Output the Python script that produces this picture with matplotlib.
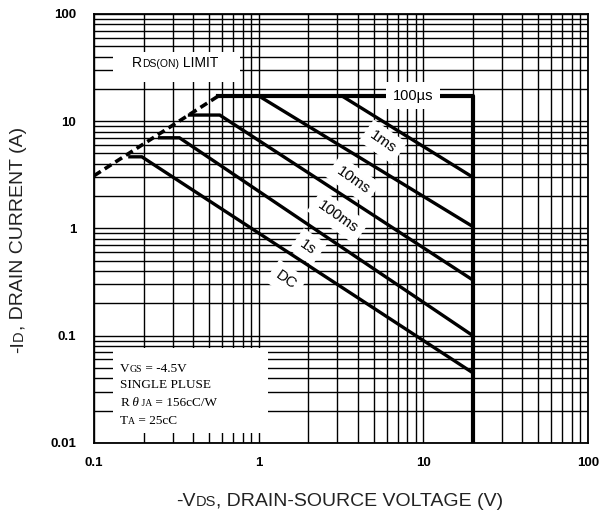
import numpy as np
import matplotlib.pyplot as plt
from matplotlib.patches import Rectangle
from matplotlib.ticker import FixedLocator, NullFormatter
from matplotlib.transforms import offset_copy

plt.rcParams['font.family'] = 'Liberation Sans'

# Safe operating area limits (V in volts, I in amps)
v_rds = [0.1, 0.57]
i_rds = [3.1, 17.2]

v_100us = [0.57, 20, 20]
i_100us = [17.2, 17.2, 0.01]
v_1ms = [0.57, 3.2, 20]
i_1ms = [17.2, 17.2, 3.0]
v_10ms = [0.57, 1.0, 20]
i_10ms = [17.2, 17.2, 1.04]
v_100ms = [0.38, 0.58, 20]
i_100ms = [11.4, 11.4, 0.33]
v_1s = [0.25, 0.33, 20]
i_1s = [7.0, 7.0, 0.1]
v_dc = [0.165, 0.195, 20]
i_dc = [4.65, 4.65, 0.045]

# pulse width labels and where they sit on the chart
pulse_labels = ['1ms', '10ms', '100ms', '1s', 'DC']
label_v = [5.69, 3.74, 3.03, 1.99, 1.465]
label_i = [6.4, 2.83, 1.28, 0.672, 0.331]

tick_vals = [0.1, 1, 10, 100]
x_tick_labels = ['0.1', '1', '10', '100']
y_tick_vals = [0.01, 0.1, 1, 10, 100]
y_tick_labels = ['0.01', '0.1', '1', '10', '100']

fig = plt.figure(figsize=(6.03, 5.15), dpi=100)
ax = fig.add_axes([0.156, 0.140, 0.819, 0.833])
ax.set_xscale('log')
ax.set_yscale('log')
ax.set_xlim(0.1, 100)
ax.set_ylim(0.01, 100)

ax.xaxis.set_major_locator(FixedLocator(tick_vals))
ax.set_xticklabels(x_tick_labels, fontweight='bold', fontsize=9.5)
ax.yaxis.set_major_locator(FixedLocator(y_tick_vals))
ax.set_yticklabels(y_tick_labels, fontweight='bold', fontsize=9.5)
ax.xaxis.set_minor_formatter(NullFormatter())
ax.yaxis.set_minor_formatter(NullFormatter())
ax.tick_params(which='both', length=0)
ax.tick_params(axis='x', pad=10)
ax.tick_params(axis='y', pad=13)

ax.grid(True, which='both', color='black', lw=1.0)
ax.set_axisbelow(True)
for sp in ax.spines.values():
    sp.set_linewidth(1.3)

# curves
ax.plot(v_rds, i_rds, color='black', lw=2.6, ls=(0, (2.2, 1.3)), zorder=4)
ax.plot(v_100us, i_100us, color='black', lw=3.0, zorder=4)
for v, i in [(v_1ms, i_1ms), (v_10ms, i_10ms), (v_100ms, i_100ms),
             (v_1s, i_1s), (v_dc, i_dc)]:
    ax.plot(v, i, color='black', lw=2.4, zorder=4, solid_joinstyle='miter')

ax.text(8.65, i_100us[0], '100\u00b5s', fontsize=10.5, ha='center', va='center',
        zorder=5, bbox=dict(boxstyle='square,pad=0.45', fc='white', ec='none'))
for s, v, i in zip(pulse_labels, label_v, label_i):
    ax.text(v, i, s, fontsize=11, ha='center', va='center', rotation=-35,
            rotation_mode='anchor', zorder=3,
            bbox=dict(boxstyle='square,pad=0.4', fc='white', ec='none'))

# white panels behind the notes
ax.add_patch(Rectangle((0.0385, 0.8415), 0.257, 0.07, transform=ax.transAxes,
                       fc='white', ec='none', zorder=2.5))
ax.add_patch(Rectangle((0.038, 0.023), 0.314, 0.198, transform=ax.transAxes,
                       fc='white', ec='none', zorder=2.5))


def rich_text(x, y, parts, transform, rotation=0, ha='left', color='black'):
    # lay out pieces of text with different sizes along one baseline
    renderer = fig.canvas.get_renderer()
    items = []
    for s, size, extra in parts:
        t = fig.text(x, y, s, transform=transform, fontsize=size, rotation=rotation,
                     rotation_mode='anchor', ha='left', va='baseline', color=color,
                     zorder=5, **extra)
        bb = t.get_window_extent(renderer)
        items.append((t, bb.height if rotation == 90 else bb.width))
    total = sum(w for _, w in items)
    pos = -total / 2 if ha == 'center' else 0
    for t, w in items:
        if rotation == 90:
            t.set_transform(offset_copy(transform, fig=fig, x=0, y=pos, units='dots'))
        else:
            t.set_transform(offset_copy(transform, fig=fig, x=pos, y=0, units='dots'))
        pos += w


rich_text(0.165, 0.877, [('R', 10, {}), ('DS(ON)', 7.5, {}), (' LIMIT', 10, {})],
          ax.transAxes, ha='center')

serif = {'family': 'Liberation Serif'}
note_x = 0.053
rich_text(note_x, 0.166, [('V', 9.5, serif), ('GS', 7, serif), (' = -4.5V', 9.5, serif)],
          ax.transAxes)
rich_text(note_x, 0.1275, [('SINGLE PLUSE', 9.5, serif)], ax.transAxes)
rich_text(note_x, 0.085, [('R', 9.5, serif), (' \u03b8', 9.5, dict(serif, style='italic')),
                          (' JA', 7, serif), (' = 156cC/W', 9.5, serif)], ax.transAxes)
rich_text(note_x, 0.043, [('T', 9.5, serif), ('A', 7, serif), (' = 25cC', 9.5, serif)],
          ax.transAxes)

# axis titles
rich_text(0.564, 0.0175, [('-V', 14, {}), ('DS', 10.5, {}),
                          (', DRAIN-SOURCE VOLTAGE (V)', 14, {})],
          fig.transFigure, ha='center', color='#222222')
rich_text(0.038, 0.534, [('-I', 14, {}), ('D', 10.5, {}),
                         (', DRAIN CURRENT (A)', 14, {})],
          fig.transFigure, rotation=90, ha='center', color='#222222')

fig.savefig('out.png', dpi=100)
